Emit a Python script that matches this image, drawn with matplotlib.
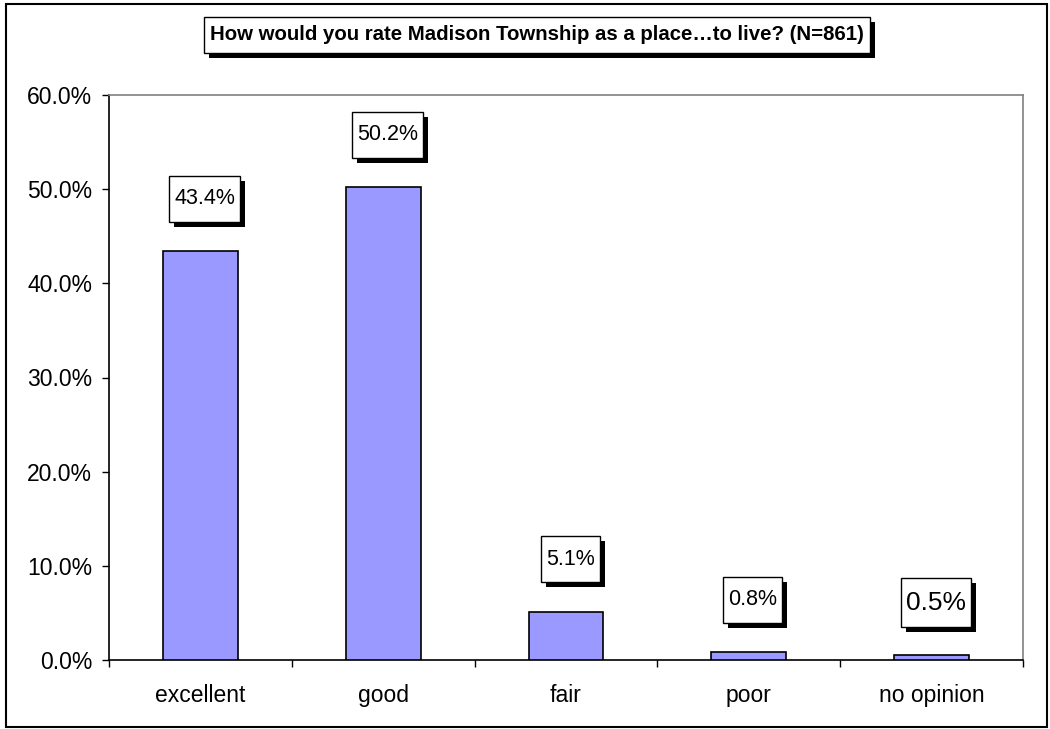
import matplotlib
matplotlib.use("Agg")
import matplotlib.pyplot as plt
from matplotlib.patches import Rectangle
from matplotlib.transforms import IdentityTransform
from matplotlib.ticker import FuncFormatter, FixedLocator

categories = ["excellent", "good", "fair", "poor", "no opinion"]
values = [43.4, 50.2, 5.1, 0.8, 0.5]
value_labels = ["43.4%", "50.2%", "5.1%", "0.8%", "0.5%"]
label_sizes = [15.5, 15.5, 15.5, 15.5, 19]
yticks = [0, 10, 20, 30, 40, 50, 60]
title = "How would you rate Madison Township as a place\u2026to live? (N=861)"

plt.rcParams['font.family'] = ['Liberation Sans', 'DejaVu Sans']

W, H = 1050, 729
fig = plt.figure(figsize=(W / 100, H / 100), dpi=100)
fig.patch.set_facecolor("white")

ax = fig.add_axes([109 / W, 1 - 660 / H, (1023 - 109) / W, (660 - 95) / H])
x = list(range(len(categories)))
ax.bar(x, values, width=0.41, color="#9999FF", edgecolor="black", linewidth=1.2, zorder=3)

ax.set_xlim(-0.5, len(categories) - 0.5)
ax.set_ylim(0, 60)
ax.set_yticks(yticks)
ax.yaxis.set_major_formatter(FuncFormatter(lambda v, p: f"{v:.1f}%"))
ax.tick_params(axis="y", direction="out", length=5, width=1, pad=7, labelsize=16.5, colors="black")

ax.set_xticks(x)
ax.set_xticklabels(categories)
ax.tick_params(axis="x", which="major", length=0, pad=17, labelsize=16.5)
ax.xaxis.set_minor_locator(FixedLocator([i - 0.5 for i in range(len(categories) + 1)]))
ax.tick_params(axis="x", which="minor", direction="out", length=5, width=1, color="black")

for s in ["left", "bottom"]:
    ax.spines[s].set_color("black")
    ax.spines[s].set_linewidth(1.2)
for s in ["top", "right"]:
    ax.spines[s].set_color("#808080")
    ax.spines[s].set_linewidth(1.2)

texts = []
for i, (v, lab, fs) in enumerate(zip(values, value_labels, label_sizes)):
    t = ax.annotate(lab, xy=(i, v), xytext=(3, 38), textcoords="offset points",
                    ha="center", va="center", fontsize=fs, color="black", zorder=10,
                    annotation_clip=False)
    texts.append(t)

tt = fig.text(537 / W, 1 - 34.5 / H, title, ha="center", va="center",
              fontsize=14.7, fontweight="bold", color="black", zorder=10)

fig.canvas.draw()
r = fig.canvas.get_renderer()

def boxed(bb, padx, pady, target):
    x0, y0 = bb.x0 - padx, bb.y0 - pady
    w, h = bb.width + 2 * padx, bb.height + 2 * pady
    sh = Rectangle((x0 + 5, y0 - 5), w, h, facecolor="black", edgecolor="none",
                   transform=IdentityTransform(), zorder=8, clip_on=False)
    bx = Rectangle((x0, y0), w, h, facecolor="white", edgecolor="black", linewidth=1,
                   transform=IdentityTransform(), zorder=9, clip_on=False)
    if target is ax:
        ax.add_artist(sh)
        ax.add_artist(bx)
    else:
        fig.add_artist(sh)
        fig.add_artist(bx)

for t in texts:
    boxed(t.get_window_extent(r), 5, 12.5, ax)
boxed(tt.get_window_extent(r), 6, 8.5, fig)

frame = Rectangle((6, 2), 1041, 723, facecolor="none", edgecolor="black", linewidth=1.5,
                  transform=IdentityTransform(), zorder=1)
fig.add_artist(frame)

fig.savefig("out.png", dpi=100)
